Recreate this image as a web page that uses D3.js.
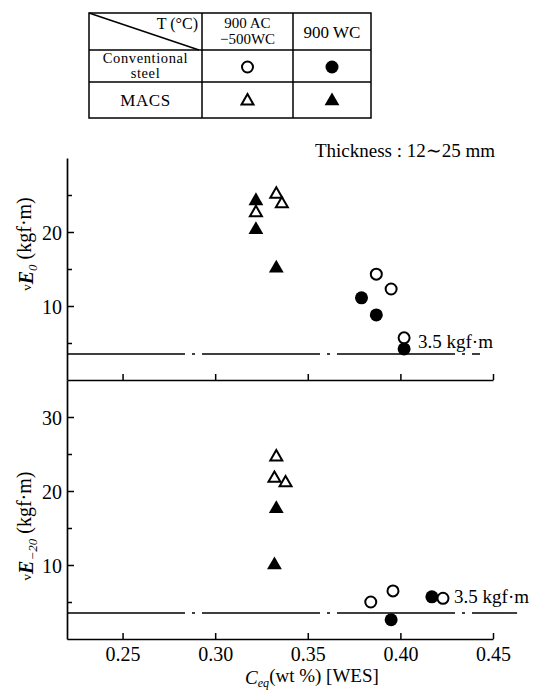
<!DOCTYPE html>
<html>
<head>
<meta charset="utf-8">
<script src="https://cdn.jsdelivr.net/npm/d3@7"></script>
<style>
  body { margin: 0; background: #fff; }
  svg { display: block; }
  svg text { font-family: "Liberation Serif", "Times New Roman", "DejaVu Serif", serif; }
</style>
</head>
<body>
<div id="chart"></div>
<script>
// ---- data ----
const xTicks = [0.25, 0.30, 0.35, 0.40, 0.45]
const threshold = 3.5

// upper panel: vE0
const topOpenCircle   = [[0.387, 14.3], [0.395, 12.3], [0.402, 5.7]]
const topFilledCircle = [[0.379, 11.1], [0.387, 8.8], [0.402, 4.2]]
const topOpenTri      = [[0.322, 22.6], [0.333, 25.1], [0.336, 23.8]]
const topFilledTri    = [[0.322, 24.2], [0.322, 20.3], [0.333, 15.1]]

// lower panel: vE-20
const botOpenCircle   = [[0.384, 5.0], [0.396, 6.5], [0.423, 5.5]]
const botFilledCircle = [[0.395, 2.6], [0.417, 5.7]]
const botOpenTri      = [[0.333, 24.6], [0.332, 21.7], [0.338, 21.1]]
const botFilledTri    = [[0.333, 17.6], [0.332, 10.0]]

const tableCols = [["900 AC", "\u2212500WC"], ["900 WC"]]
const tableRows = [["Conventional", "steel"], ["MACS"]]

const width = 547, height = 692

const svg = d3.select("#chart").append("svg")
  .attr("width", width).attr("height", height)

const x = d3.scaleLinear().domain([0.22, 0.45]).range([67, 493])
const yTop = d3.scaleLinear().domain([0, 30]).range([380, 158])
const yBot = d3.scaleLinear().domain([0, 35]).range([639, 380])

const ink = "#000"
const serif = "Liberation Serif, Times New Roman, serif"

// ---- markers ----
const triOpen = d3.symbol(d3.symbolTriangle, 62)
const triFill = d3.symbol(d3.symbolTriangle, 95)

function marker(g, kind, filled, cx, cy) {
  if (kind === "circle") {
    g.append("circle")
      .attr("cx", cx).attr("cy", cy)
      .attr("r", filled ? 6.5 : 5.5)
      .attr("fill", filled ? ink : "#fff")
      .attr("stroke", ink).attr("stroke-width", filled ? 0 : 2)
  } else {
    g.append("path")
      .attr("d", filled ? triFill() : triOpen())
      .attr("transform", `translate(${cx},${cy})`)
      .attr("fill", filled ? ink : "#fff")
      .attr("stroke", ink).attr("stroke-width", filled ? 0 : 2)
  }
}

function plot(data, y, kind, filled) {
  const g = svg.append("g")
  data.forEach(d => marker(g, kind, filled, x(d[0]), y(d[1])))
}

// ---- axes ----
function styleAxis(g) {
  g.attr("font-family", serif)
  g.selectAll("path.domain").attr("stroke", ink).attr("stroke-width", 1.7)
  g.selectAll(".tick line").attr("stroke", ink).attr("stroke-width", 1.5)
  g.selectAll("text").attr("font-size", 20).attr("fill", ink)
}

// shared line between the panels (ticks into upper panel)
svg.append("g")
  .attr("transform", `translate(0,${yTop(0)})`)
  .call(d3.axisBottom(x).tickValues(xTicks).tickSizeInner(-6).tickSizeOuter(0).tickFormat(""))
  .call(styleAxis)

// bottom x axis
svg.append("g")
  .attr("transform", `translate(0,${yBot(0)})`)
  .call(d3.axisBottom(x).tickValues(xTicks).tickSizeInner(-6).tickSizeOuter(0)
    .tickPadding(8).tickFormat(d3.format(".2f")))
  .call(styleAxis)

function leftAxis(y, ticks) {
  svg.append("g")
    .attr("transform", `translate(${x(0.22)},0)`)
    .call(d3.axisLeft(y).tickValues(ticks).tickSizeInner(-7).tickSizeOuter(0)
      .tickPadding(5).tickFormat(d => d % 10 === 0 ? d : ""))
    .call(styleAxis)
    .call(g => g.selectAll(".tick").filter(d => d % 10 !== 0).select("line").attr("x2", 5))
    .call(g => g.selectAll(".tick text").attr("dy", "0.36em"))
}
leftAxis(yTop, [5, 10, 15, 20, 25])
leftAxis(yBot, [5, 10, 15, 20, 25, 30])

// ---- threshold lines ----
function thresholdLine(y, xEnd, labelAt) {
  svg.append("line")
    .attr("x1", x(0.22)).attr("x2", x(xEnd))
    .attr("y1", y(threshold)).attr("y2", y(threshold))
    .attr("stroke", ink).attr("stroke-width", 1.5)
    .attr("stroke-dasharray", "118,7,3,7")
  svg.append("text")
    .attr("x", x(labelAt[0])).attr("y", y(labelAt[1]))
    .attr("font-size", 19)
    .text("3.5 kgf\u00b7m")
}
thresholdLine(yTop, 0.443, [0.4095, 4.3])
thresholdLine(yBot, 0.463, [0.429, 4.9])

// ---- points ----
plot(topFilledCircle, yTop, "circle", true)
plot(topOpenCircle, yTop, "circle", false)
plot(topFilledTri, yTop, "tri", true)
plot(topOpenTri, yTop, "tri", false)

plot(botFilledCircle, yBot, "circle", true)
plot(botOpenCircle, yBot, "circle", false)
plot(botFilledTri, yBot, "tri", true)
plot(botOpenTri, yBot, "tri", false)

// ---- titles ----
function yTitle(cx, cy, sub) {
  const t = svg.append("text")
    .attr("transform", `translate(${cx},${cy}) rotate(-90)`)
    .attr("text-anchor", "middle")
    .attr("font-size", 20)
  t.append("tspan").attr("font-size", 13).attr("dy", "-0.1em").text("v")
  t.append("tspan").attr("font-style", "italic").attr("font-weight", "bold").attr("dy", "0.1em").text("E")
  t.append("tspan").attr("font-size", 13).attr("font-style", "italic").attr("dy", "0.3em").text(sub)
  t.append("tspan").attr("dy", "-0.3em").text(" (kgf\u00b7m)")
}
yTitle(32, 244, "0")
yTitle(32, 526, "\u221220")

const xt = svg.append("text")
  .attr("x", 312).attr("y", 684)
  .attr("text-anchor", "middle")
  .attr("font-size", 19)
xt.append("tspan").attr("font-style", "italic").text("C")
xt.append("tspan").attr("font-style", "italic").attr("font-size", 12).attr("dy", "0.25em").text("eq")
xt.append("tspan").attr("dy", "-0.25em").text("(wt %) [WES]")

svg.append("text")
  .attr("x", 495).attr("y", 157)
  .attr("text-anchor", "end")
  .attr("font-size", 19)
  .text("Thickness : 12\u223c25 mm")

// ---- legend table ----
const tb = { left: 89, right: 371, top: 13, bottom: 118, cols: [202, 293], rows: [50, 82] }
const tg = svg.append("g").attr("stroke", ink).attr("stroke-width", 1.5).attr("fill", "none")
tg.append("rect")
  .attr("x", tb.left).attr("y", tb.top)
  .attr("width", tb.right - tb.left).attr("height", tb.bottom - tb.top)
tb.cols.forEach(cx => tg.append("line").attr("x1", cx).attr("x2", cx).attr("y1", tb.top).attr("y2", tb.bottom))
tb.rows.forEach(ry => tg.append("line").attr("x1", tb.left).attr("x2", tb.right).attr("y1", ry).attr("y2", ry))
tg.append("line").attr("x1", tb.left).attr("y1", tb.top).attr("x2", tb.cols[0] - 3).attr("y2", tb.rows[0])

const colEdges = [tb.cols[0], tb.cols[1], tb.right]
const rowEdges = [tb.rows[0], tb.rows[1], tb.bottom]
const tt = svg.append("g").attr("text-anchor", "middle")

tt.append("text").attr("x", tb.cols[0] - 4).attr("y", 29).attr("text-anchor", "end").attr("font-size", 16).text("T (\u00b0C)")

tableCols.forEach((lines, i) => {
  const cx = (colEdges[i] + colEdges[i + 1]) / 2
  const two = lines.length > 1
  lines.forEach((s, j) => tt.append("text")
    .attr("x", cx).attr("y", two ? 28 + j * 16 : 38)
    .attr("font-size", two ? 15 : 17).text(s))
})

tableRows.forEach((lines, i) => {
  const cy = (rowEdges[i] + rowEdges[i + 1]) / 2
  const cx = (tb.left + tb.cols[0]) / 2
  const two = lines.length > 1
  lines.forEach((s, j) => tt.append("text")
    .attr("x", cx).attr("y", two ? cy - 3 + j * 15 : cy + 6)
    .attr("font-size", two ? 14.5 : 17)
    .attr("letter-spacing", 0.6).text(s))
  const kind = i === 0 ? "circle" : "tri"
  ;[false, true].forEach((filled, k) => {
    const mx = (colEdges[k] + colEdges[k + 1]) / 2
    marker(svg.append("g"), kind, filled, mx, cy + 1)
  })
})
</script>
</body>
</html>
